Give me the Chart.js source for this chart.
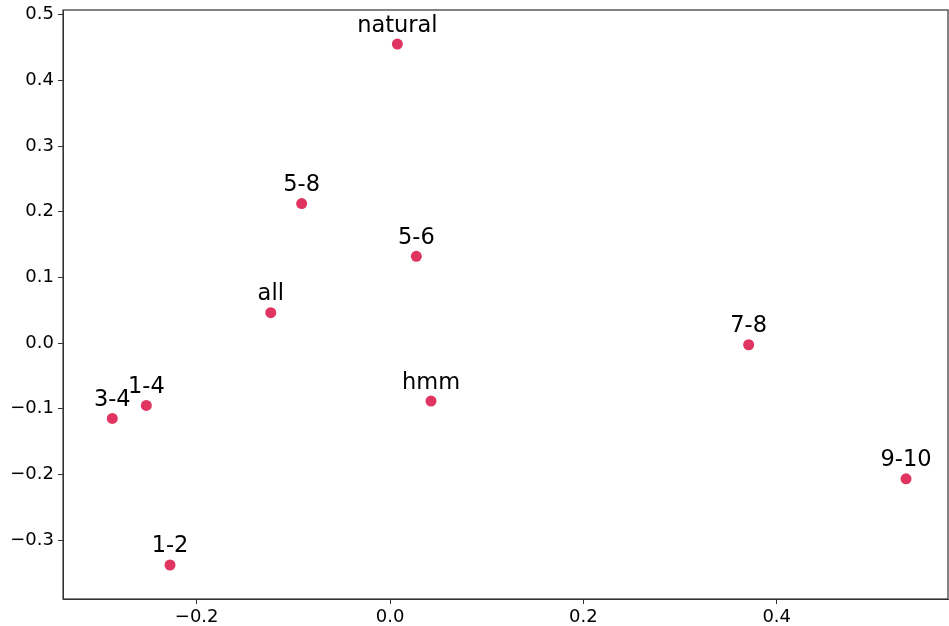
<!DOCTYPE html>
<html>
<head>
<meta charset="utf-8">
<script src="https://cdn.jsdelivr.net/npm/chart.js@4"></script>
<style>
  html, body { margin: 0; padding: 0; background: #fff; }
  canvas { display: block; }
</style>
</head>
<body>
<canvas id="embed" width="949" height="626"></canvas>
<script>
// 2-D embedding of the model variants
const names = ['natural', '5-8', '5-6', 'all', '7-8', 'hmm', '1-4', '3-4', '9-10', '1-2'];
const xs = [0.0076, -0.0914, 0.0272, -0.1234, 0.371, 0.0424, -0.2521, -0.2873, 0.5338, -0.2276];
const ys = [0.4553, 0.2124, 0.1321, 0.0462, -0.0026, -0.0884, -0.095, -0.1148, -0.2068, -0.338];

const xTicks = [-0.2, 0.0, 0.2, 0.4];
const yTicks = [-0.3, -0.2, -0.1, 0.0, 0.1, 0.2, 0.3, 0.4, 0.5];

const FONT = 'DejaVu Sans';
const AXIS = '#333';

const fmt = v => {
    const s = Math.abs(v).toFixed(1);
    return (v < -1e-9 ? '\u2212' : '') + s;
};

// text label above each point
const pointLabels = {
    id: 'pointLabels',
    afterDatasetsDraw(chart) {
        const ctx = chart.ctx;
        const meta = chart.getDatasetMeta(0);
        ctx.save();
        ctx.font = '22.5px "' + FONT + '"';
        ctx.fillStyle = '#000';
        ctx.textAlign = 'center';
        ctx.textBaseline = 'alphabetic';
        meta.data.forEach((pt, i) => {
            ctx.fillText(names[i], pt.x, pt.y - 12.5);
        });
        ctx.restore();
    }
};

// full box around the plot area
const frame = {
    id: 'frame',
    afterDraw(chart) {
        const a = chart.chartArea;
        const ctx = chart.ctx;
        ctx.save();
        ctx.strokeStyle = AXIS;
        ctx.lineWidth = 1.2;
        ctx.strokeRect(a.left, a.top, a.right - a.left, a.bottom - a.top);
        ctx.restore();
    }
};

new Chart(document.getElementById('embed').getContext('2d'), {
    type: 'scatter',
    data: {
        datasets: [{
            data: xs.map((x, i) => ({ x, y: ys[i] })),
            backgroundColor: '#df3560',
            borderWidth: 0,
            pointRadius: 5.5,
            pointHoverRadius: 5.5,
        }],
    },
    options: {
        responsive: false,
        animation: false,
        layout: { autoPadding: false, padding: { left: 0, right: 1, top: 10, bottom: 0 } },
        plugins: { legend: { display: false }, tooltip: { enabled: false } },
        scales: {
            x: {
                type: 'linear',
                min: -0.3383,
                max: 0.5772,
                afterBuildTicks: s => { s.ticks = xTicks.map(v => ({ value: v })); },
                afterFit: s => {
                    s.height = 27;
                    s.paddingLeft = 0;
                    s.paddingRight = 0;
                },
                grid: { drawOnChartArea: false, drawTicks: true, tickLength: 5, tickColor: AXIS, tickWidth: 1 },
                border: { display: true, color: AXIS, width: 1 },
                ticks: {
                    padding: 3,
                    color: '#000',
                    font: { family: FONT, size: 18 },
                    maxRotation: 0,
                    callback: v => fmt(v),
                },
            },
            y: {
                type: 'linear',
                min: -0.3898,
                max: 0.5072,
                afterBuildTicks: s => { s.ticks = yTicks.map(v => ({ value: v })); },
                afterFit: s => {
                    s.width = 63;
                    s.paddingTop = 0;
                    s.paddingBottom = 0;
                },
                grid: { drawOnChartArea: false, drawTicks: true, tickLength: 5, tickColor: AXIS, tickWidth: 1 },
                border: { display: true, color: AXIS, width: 1 },
                ticks: {
                    padding: 4,
                    color: '#000',
                    font: { family: FONT, size: 18 },
                    callback: v => fmt(v),
                },
            },
        },
    },
    plugins: [pointLabels, frame],
});
</script>
</body>
</html>
